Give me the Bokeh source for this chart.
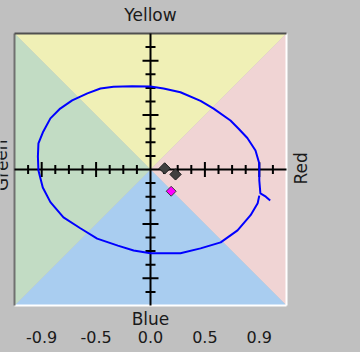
from math import pi

from bokeh.core.properties import value
from bokeh.embed import file_html
from bokeh.models import FixedTicker, Range1d
from bokeh.plotting import figure
from bokeh.resources import INLINE

# Half-width of the square colour field (data units)
R = 1.25

# Colour quadrants of the field
quadrant_names = ["Yellow", "Red", "Blue", "Green"]
quadrant_colors = ["#f0f0b6", "#f0d4d4", "#a9cdf0", "#c2dcc4"]

# Axis ticks along the centre cross
minor_ticks = [-1.125, -0.875, -0.75, -0.625, -0.375, -0.25, -0.125,
               0.125, 0.25, 0.375, 0.625, 0.75, 0.875, 1.125]
major_ticks = [-1.0, -0.5, 0.5, 1.0]

# Labelled ticks on the bottom axis
tick_positions = [-1.0, -0.5, 0.0, 0.5, 1.0]
tick_labels = ["-0.9", "-0.5", "0.0", "0.5", "0.9"]

# Traced path
curve_x = [1.10, 1.06, 1.01, 1.00, 1.00, 0.965, 0.89, 0.81, 0.735, 0.58, 0.46,
           0.275, 0.12, 0.0, -0.17, -0.34, -0.46, -0.58, -0.72, -0.83, -0.92,
           -0.99, -1.03, -1.035, -1.03, -0.99, -0.92, -0.80, -0.645, -0.49,
           -0.30, -0.155, 0.0, 0.275, 0.46, 0.645, 0.80, 0.92, 0.985, 1.00]
curve_y = [-0.285, -0.25, -0.22, -0.10, 0.055, 0.175, 0.29, 0.375, 0.45, 0.56,
           0.63, 0.71, 0.745, 0.763, 0.765, 0.76, 0.745, 0.70, 0.635, 0.56,
           0.47, 0.34, 0.24, 0.12, -0.01, -0.165, -0.30, -0.44, -0.54, -0.635,
           -0.70, -0.745, -0.77, -0.77, -0.725, -0.67, -0.56, -0.42, -0.31,
           -0.24]

# Sample points
grey_x = [0.13, 0.23]
grey_y = [0.01, -0.045]
pink_x = [0.19]
pink_y = [-0.20]

FONT = "DejaVu Sans"
TEXT = "#1a1a1a"
BG = "#c0c0c0"

# Page geometry (pixels): the plotting frame covers the whole page except a
# strip at the bottom for the tick labels; the field centre sits at (CX, CY).
W, H = 360, 352
FRAME_H = 326
CX, CY = 150, 169
K = 108.8  # pixels per data unit

p = figure(
    width=W, height=H,
    x_range=Range1d(-CX / K, (W - CX) / K),
    y_range=Range1d(-(FRAME_H - CY) / K, CY / K),
    x_axis_location="below", y_axis_location=None,
    toolbar_location=None, output_backend="svg",
    min_border_left=0, min_border_right=0,
    min_border_top=0, min_border_bottom=H - FRAME_H,
)
# One flat grey behind the whole plot, so frame and margin share a single fill
p.styles = {"background-color": BG}
p.background_fill_color = None
p.border_fill_color = None
p.outline_line_color = None
p.xgrid.visible = False
p.ygrid.visible = False

# Four triangular colour regions meeting at the centre
tri_xs = [[-R, R, 0], [R, R, 0], [R, -R, 0], [-R, -R, 0]]
tri_ys = [[R, R, 0], [R, -R, 0], [-R, -R, 0], [-R, R, 0]]
p.patches(xs=tri_xs, ys=tri_ys, fill_color=quadrant_colors, line_color=None)

# Sunken frame around the field: light right/bottom, dark left/top
p.multi_line(xs=[[R, R], [-R, R]], ys=[[R, -R], [-R, -R]],
             line_color="#ffffff", line_width=2)
p.multi_line(xs=[[-R, -R]], ys=[[-R, R]], line_color="#707070", line_width=2)
p.multi_line(xs=[[-R, R]], ys=[[R, R]], line_color="#505050", line_width=2)

# Centre cross
p.multi_line(xs=[[-R, R], [0, 0]], ys=[[0, 0], [-R, R]],
             line_color="#000000", line_width=2)

zeros_minor = [0] * len(minor_ticks)
zeros_major = [0] * len(major_ticks)
tick_style = dict(marker="dash", line_color="#000000", line_width=2)
p.scatter(minor_ticks, zeros_minor, size=9, angle=pi / 2, **tick_style)
p.scatter(major_ticks, zeros_major, size=15, angle=pi / 2, **tick_style)
p.scatter(zeros_minor, minor_ticks, size=10, angle=0, **tick_style)
p.scatter(zeros_major, major_ticks, size=16, angle=0, **tick_style)

# Path
p.line(curve_x, curve_y, line_color="#0000ff", line_width=2)

# Points
p.scatter(grey_x, grey_y, marker="square", angle=pi / 4, size=8,
          fill_color="#404040", line_color="#1a1a1a", line_width=1)
p.scatter(pink_x, pink_y, marker="square", angle=pi / 4, size=7,
          fill_color="#ff00ff", line_color="#3a3a3a", line_width=1)

# Names of the four sides, set just outside the field
name_x = [0, 0, R + 14 / K, -R - 13 / K]
name_y = [R + 19 / K, -R - 13 / K, 0.01, 0.04]
name_text = ["Yellow", "Blue", "Red", "Green"]
name_angle = [0, 0, pi / 2, pi / 2]
p.text(x=name_x, y=name_y, text=name_text, angle=name_angle,
       text_align="center", text_baseline="middle",
       text_font=value(FONT), text_font_size="17px", text_color=TEXT)

# Bottom axis: tick labels only
ax = p.xaxis[0]
ax.ticker = FixedTicker(ticks=tick_positions)
ax.major_label_overrides = {t: s for t, s in zip(tick_positions, tick_labels)}
ax.axis_line_color = None
ax.major_tick_line_color = None
ax.minor_tick_line_color = None
ax.major_tick_in = 0
ax.major_tick_out = 0
ax.major_label_standoff = 4
ax.major_label_text_font = FONT
ax.major_label_text_font_size = "16px"
ax.major_label_text_color = TEXT

open("out.html", "w").write(file_html(p, INLINE))
